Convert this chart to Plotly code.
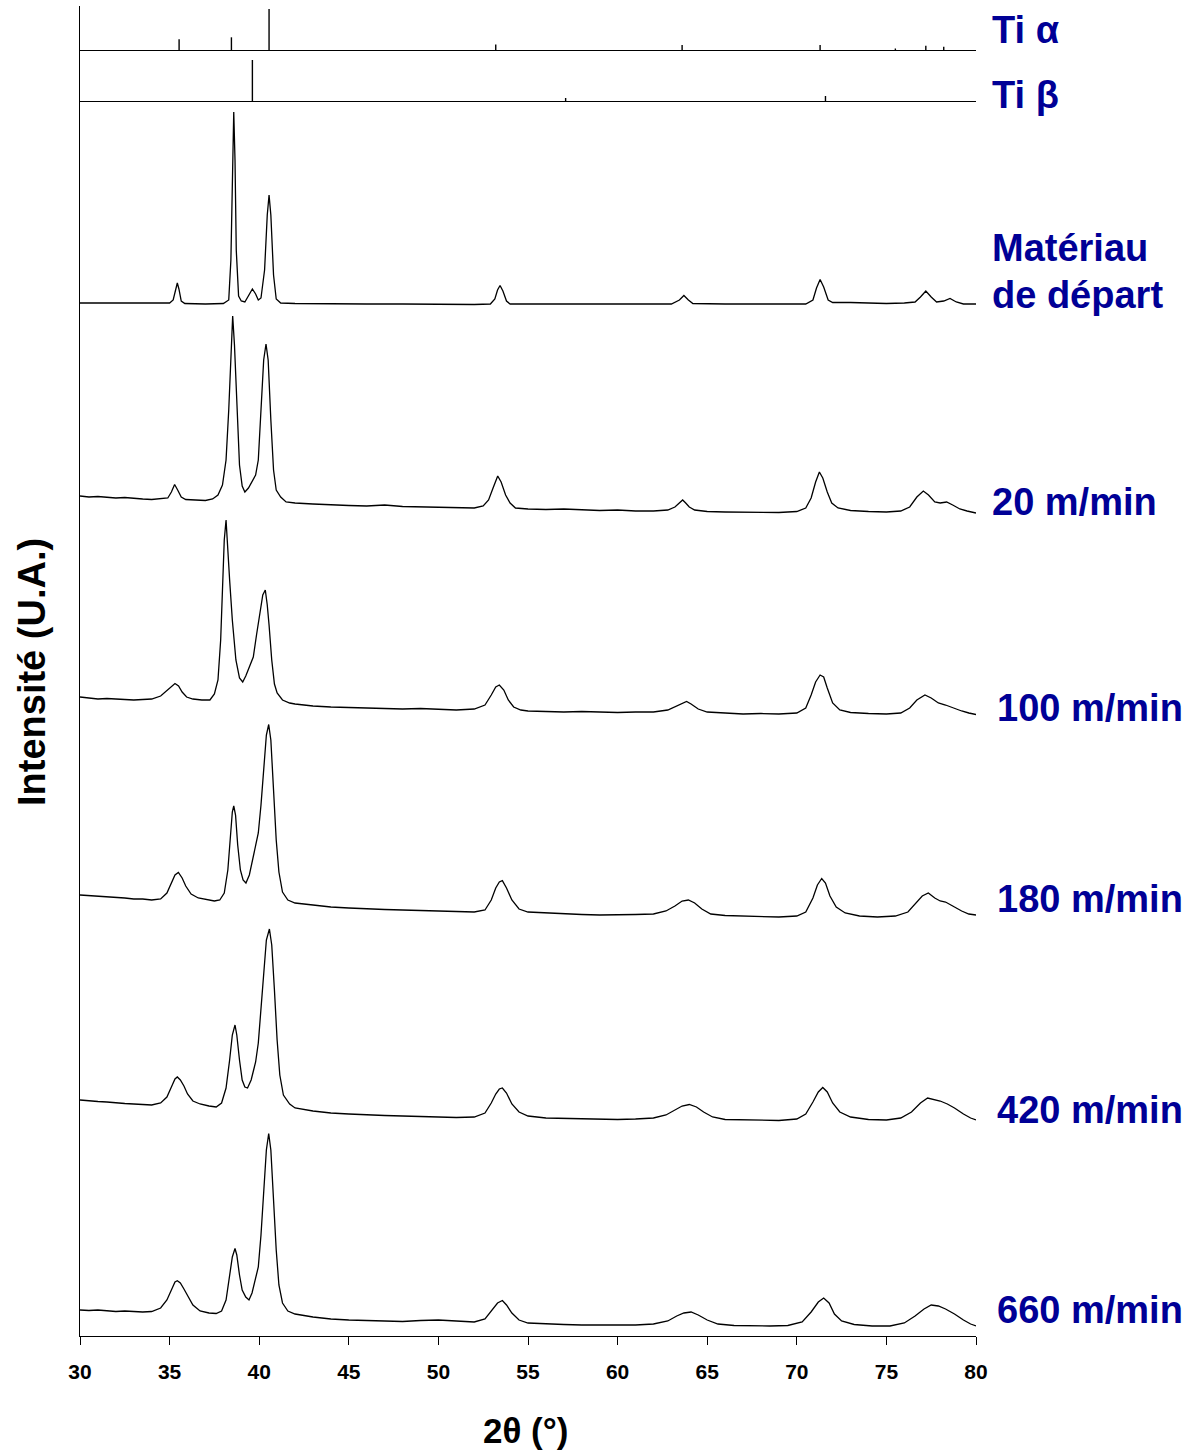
import plotly.graph_objects as go
from plotly.subplots import make_subplots

# ---------------- data (2θ in degrees, intensity in a.u.) ----------------
ti_alpha_pos = [35.53, 38.45, 40.55, 53.2, 63.6, 71.3, 75.5, 77.2, 78.2]
ti_alpha_int = [10.7, 12.7, 41, 5.5, 5, 5, 1.5, 4.3, 3.3]

ti_beta_pos = [39.62, 57.1, 71.6]
ti_beta_int = [41, 3, 5]

start_pts = [(30,0),(31,0),(32,-0.5),(33,0),(34,-0.5),(35.0,0),(35.2,3),(35.35,15),(35.43,20),(35.52,14),
             (35.65,2),(35.85,-0.5),(37,-1),(38.0,-0.5),(38.3,3),(38.42,43),(38.5,143),(38.58,191),(38.65,143),
             (38.72,53),(38.85,7),(39.0,2),(39.2,1),(39.45,9),(39.62,14),(39.8,9),(39.95,3),(40.1,5),(40.3,33),
             (40.45,88),(40.55,108),(40.65,88),(40.8,28),(40.95,4),(41.2,0),(42,-0.5),(44,-1),(46,-1),(48,-1),
             (50,-1.5),(52,-1.5),(52.9,-1),(53.15,4),(53.3,13),(53.44,17.5),(53.6,12),(53.8,2),(54.0,-1),(55,-1),
             (57,-1.5),(59,-1.5),(61,-1.5),(63.0,-1),(63.45,3),(63.7,7.5),(63.95,3),(64.2,-0.5),(66,-1),(68,-1),
             (70.5,-1),(70.9,3),(71.1,15),(71.3,23.5),(71.5,16),(71.75,3),(72.0,0.5),(73,0.5),(75,-0.5),(76,0),
             (76.6,1),(76.9,6),(77.2,12),(77.5,6),(77.8,1),(78.2,2),(78.55,4.5),(78.9,1),(79.3,-1),(80,-1)]

m20_pts = [(30,0),(30.5,-1),(31,-0.5),(31.5,-1.5),(32,-2),(32.5,-1.5),(33,-2.5),(33.5,-3),(34,-3.5),(34.5,-3),
           (34.9,-2),(35.1,4),(35.28,11.5),(35.45,6),(35.65,-1),(35.9,-3.5),(36.5,-4),(37,-4.5),(37.4,-3),(37.7,1),
           (37.95,11),(38.15,36),(38.3,86),(38.42,146),(38.52,180),(38.62,151),(38.75,86),(38.9,31),(39.05,10),
           (39.2,4),(39.4,8),(39.6,14),(39.8,21),(39.95,36),(40.1,86),(40.25,136),(40.38,152),(40.5,136),(40.65,76),
           (40.8,26),(40.95,6),(41.2,-1),(41.5,-6),(42,-7),(43,-8),(44,-9),(45,-9.5),(46,-10),(47,-9),(48,-10.5),
           (49,-11),(50,-11.5),(51,-12),(52,-12),(52.5,-10),(52.8,-4),(53.05,8),(53.31,20),(53.5,14),(53.75,1),
           (54.0,-7),(54.3,-12),(55,-13),(56,-13.5),(57,-13),(58,-14),(59,-14.5),(60,-14),(61,-15),(62,-15),
           (62.8,-14),(63.2,-11),(63.45,-7),(63.63,-4),(63.8,-7),(64.0,-11),(64.3,-14),(65,-15.5),(66,-16),(67,-16),
           (68,-16),(69,-16.5),(70,-15.5),(70.5,-12),(70.8,-2),(71.05,14),(71.26,24),(71.45,18),(71.7,4),(71.95,-7),
           (72.3,-12),(73,-14.5),(74,-15.5),(75,-16),(75.8,-15),(76.3,-11),(76.7,-1),(77.06,5),(77.35,1),(77.7,-6),
           (78.0,-7),(78.36,-6),(78.7,-9),(79.1,-13),(79.5,-15),(80,-17)]

m100_pts = [(30,0),(30.5,-1),(31,-2),(31.5,-1.5),(32,-2),(32.5,-3),(33,-3),(33.5,-2.5),(34,-2),(34.5,1),(34.9,7),
            (35.15,11),(35.3,13.5),(35.5,11),(35.7,5),(35.95,0),(36.3,-2),(36.8,-3),(37.25,-3),(37.5,3),(37.7,17),
            (37.85,57),(37.95,107),(38.05,157),(38.15,177),(38.25,152),(38.35,117),(38.5,77),(38.7,37),(38.9,19),
            (39.08,15),(39.25,21),(39.45,30),(39.67,40),(39.85,62),(40.05,87),(40.2,102),(40.34,107),(40.45,92),
            (40.55,72),(40.7,37),(40.85,13),(41.0,4),(41.3,-3),(41.7,-6),(42,-7),(43,-9),(44,-10),(45,-10.5),(46,-11),
            (47,-11),(48,-12),(49,-11.5),(50,-12.5),(51,-13),(52,-12),(52.6,-8),(52.95,2),(53.2,10),(53.4,12),
            (53.65,7),(53.9,-3),(54.2,-10),(54.6,-13),(55,-14),(56,-14.5),(57,-15),(58,-14.5),(59,-15),(60,-15.5),
            (61,-15),(62,-15),(62.8,-13),(63.3,-9),(63.6,-6),(63.85,-4.5),(64.1,-7),(64.5,-12),(65,-15),(66,-16),
            (67,-17),(68,-16.5),(69,-17),(70,-16),(70.5,-11),(70.8,2),(71.05,15),(71.3,22),(71.5,20),(71.7,9),
            (72.0,-6),(72.4,-13),(73,-15.5),(74,-16.5),(75,-17),(75.8,-16),(76.3,-11),(76.7,-3),(77.15,2),(77.5,-1),
            (77.9,-6),(78.3,-8),(78.7,-11),(79.2,-14),(79.6,-16),(80,-17.5)]

m180_pts = [(30,0),(30.5,-0.5),(31,-1),(31.5,-2),(32,-2),(32.5,-3),(33,-4),(33.5,-4),(34,-5),(34.5,-4),(34.85,2),
            (35.1,13),(35.3,20),(35.49,22.5),(35.7,17),(35.9,9),(36.2,1),(36.6,-3),(37,-4.5),(37.5,-6),(37.8,-5),
            (38.05,2),(38.25,25),(38.4,60),(38.5,83),(38.58,89),(38.68,80),(38.8,50),(38.95,25),(39.1,15),(39.26,12),
            (39.45,20),(39.65,37),(39.85,55),(39.95,62),(40.1,90),(40.25,125),(40.4,160),(40.53,170.5),(40.65,155),
            (40.8,105),(40.95,55),(41.1,23),(41.3,3),(41.6,-5),(42,-8),(43,-10),(44,-12),(45,-13),(46,-14),(47,-14.5),
            (48,-15),(49,-15.5),(50,-16),(51,-16.5),(52,-17),(52.6,-15),(52.95,-5),(53.2,7),(53.4,13),(53.57,14.3),
            (53.8,7),(54.1,-5),(54.5,-14),(55,-17),(56,-18),(57,-19),(58,-19.5),(59,-20),(60,-20),(61,-19.5),(62,-19),
            (62.7,-16),(63.2,-11),(63.6,-6),(63.95,-5),(64.3,-8),(64.7,-14),(65.2,-19),(66,-20.5),(67,-21),(68,-21.5),
            (69,-22),(70,-21),(70.5,-17),(70.9,-3),(71.15,10),(71.39,16.5),(71.6,12),(71.85,-1),(72.2,-12),(72.7,-18),
            (73.5,-21),(74.5,-22),(75.5,-21),(76.2,-17),(76.7,-7),(77.0,-1),(77.34,2),(77.7,-3),(78.0,-6),(78.3,-7),
            (78.7,-11),(79.2,-16),(79.6,-19),(80,-20)]

m420_pts = [(30,0),(30.5,-1),(31,-1.5),(31.5,-2),(32,-3),(32.5,-3.5),(33,-4),(33.5,-4.5),(34,-5),(34.5,-3),(34.85,3),
            (35.1,13),(35.3,21),(35.43,23),(35.6,20),(35.8,14),(36.0,6),(36.3,-1),(36.7,-4),(37.2,-6),(37.6,-7),
            (37.9,-3),(38.15,12),(38.35,40),(38.5,65),(38.65,75),(38.75,65),(38.9,40),(39.05,20),(39.2,13),(39.35,12),
            (39.55,20),(39.8,38),(39.95,57),(40.1,90),(40.25,130),(40.4,160),(40.57,171),(40.7,155),(40.85,110),
            (41.0,60),(41.15,25),(41.35,5),(41.7,-4),(42,-8),(43,-11),(44,-13),(45,-14),(46,-15),(47,-15.5),(48,-16),
            (49,-16.5),(50,-17),(51,-17.5),(52,-17),(52.6,-13),(52.95,-3),(53.2,6),(53.4,11),(53.57,12),(53.8,7),
            (54.1,-4),(54.5,-12),(55,-16),(56,-18),(57,-18.5),(58,-19),(59,-19),(60,-19.5),(61,-19),(62,-18),
            (62.7,-15),(63.2,-10),(63.6,-6),(64.0,-4.5),(64.4,-7),(64.8,-12),(65.3,-17),(66,-19.5),(67,-20),
            (68,-20.5),(69,-20.5),(70,-19),(70.5,-14),(70.9,-2),(71.2,8),(71.45,12.5),(71.7,8),(72.0,-3),(72.4,-12),
            (73,-17),(74,-19.5),(75,-20),(75.8,-18),(76.4,-12),(76.9,-3),(77.3,2),(77.6,1),(78.0,-1),(78.4,-4),
            (78.8,-8),(79.3,-14),(79.7,-18),(80,-20)]

m660_pts = [(30,0),(30.5,-0.5),(31,0),(31.5,-1),(32,-1.5),(32.5,-1),(33,-1.5),(33.5,-2),(34,-1.5),(34.5,2),(34.85,10),
            (35.1,20),(35.3,28),(35.43,29.3),(35.6,27),(35.8,21),(36.0,14),(36.3,5),(36.7,-1),(37.2,-3),(37.6,-3.5),
            (37.9,-1),(38.15,10),(38.35,32),(38.5,53),(38.65,61.5),(38.75,55),(38.9,35),(39.05,20),(39.25,13),
            (39.43,10),(39.6,17),(39.8,32),(39.95,43),(40.1,75),(40.25,120),(40.4,160),(40.53,176.5),(40.65,160),
            (40.8,110),(40.95,60),(41.1,25),(41.3,7),(41.6,-1),(42,-4),(43,-7),(44,-9),(45,-10),(46,-10.5),(47,-11),
            (48,-11.5),(49,-10.5),(50,-10),(51,-11),(52,-12),(52.6,-9),(53.0,0),(53.3,7),(53.57,9.5),(53.8,5),
            (54.1,-3),(54.5,-10),(55,-13),(56,-14),(57,-14.5),(58,-15),(59,-15),(60,-15.5),(61,-15),(62,-14),
            (62.8,-11),(63.3,-6),(63.7,-3),(64.1,-2),(64.5,-5),(65,-10),(65.6,-14),(66.5,-15.5),(67.5,-16),
            (68.5,-16),(69.5,-15.5),(70.3,-12),(70.8,-2),(71.2,8),(71.5,12),(71.8,7),(72.1,-4),(72.5,-11),
            (73.2,-14.5),(74.2,-16),(75.2,-16),(76,-13),(76.6,-6),(77.1,1),(77.5,5),(77.9,4),(78.3,1),(78.8,-4),
            (79.3,-10),(79.7,-14),(80,-16)]

series_names = ["Matériau de départ", "20 m/min", "100 m/min", "180 m/min", "420 m/min", "660 m/min"]
series_data = [start_pts, m20_pts, m100_pts, m180_pts, m420_pts, m660_pts]
stack_offsets = [1033, 840, 639, 441, 236, 26]   # vertical shift of each pattern

x_ticks = [30, 35, 40, 45, 50, 55, 60, 65, 70, 75, 80]

# ---------------- figure ----------------
W, H = 1191, 1450
L, R, T, B = 80, 215, 6, 114
fig = make_subplots(rows=3, cols=1, shared_xaxes=True, vertical_spacing=0,
                    row_heights=[44, 51, 1235])

def sticks(pos, inten):
    xs, ys = [], []
    for p, h in zip(pos, inten):
        xs += [p, p, None]
        ys += [0, h, None]
    return xs, ys

xs, ys = sticks(ti_alpha_pos, ti_alpha_int)
fig.add_trace(go.Scatter(x=xs, y=ys, mode="lines", line=dict(color="black", width=1.4),
                         showlegend=False, hoverinfo="skip"), row=1, col=1)
xs, ys = sticks(ti_beta_pos, ti_beta_int)
fig.add_trace(go.Scatter(x=xs, y=ys, mode="lines", line=dict(color="black", width=1.4),
                         showlegend=False, hoverinfo="skip"), row=2, col=1)

for name, pts, off in zip(series_names, series_data, stack_offsets):
    fig.add_trace(go.Scatter(x=[p[0] for p in pts], y=[p[1] + off for p in pts], mode="lines",
                             name=name, line=dict(color="black", width=1.3), showlegend=False),
                  row=3, col=1)

ax_common = dict(showline=True, linecolor="black", linewidth=1, showgrid=False, zeroline=False, mirror=False)
fig.update_xaxes(range=[30, 80], **ax_common)
fig.update_xaxes(showticklabels=False, ticks="", row=1, col=1)
fig.update_xaxes(showticklabels=False, ticks="", row=2, col=1)
fig.update_xaxes(tickmode="array", tickvals=x_ticks, ticks="outside", ticklen=8, tickwidth=1,
                 tickcolor="black", showticklabels=True, ticklabelstandoff=9,
                 tickfont=dict(family="Liberation Sans, Arial", size=21, color="black", weight="bold"),
                 row=3, col=1)
fig.update_yaxes(showticklabels=False, ticks="", **ax_common)
fig.update_yaxes(range=[0, 44], row=1, col=1)
fig.update_yaxes(range=[0, 51], row=2, col=1)
fig.update_yaxes(range=[0, 1235], row=3, col=1)

blue = "rgb(0,0,150)"
lab_font = dict(family="Liberation Sans, Arial", size=38, color=blue, weight="bold")

def px2paper(px, py):
    return (px - L) / (W - L - R), (H - B - py) / (H - T - B)

labels = [("Ti α", 990, 30), ("Ti β", 990, 95), ("Matériau", 990, 248), ("de départ", 990, 295),
          ("20 m/min", 990, 502), ("100 m/min", 995, 708), ("180 m/min", 995, 899),
          ("420 m/min", 995, 1110), ("660 m/min", 995, 1310)]
for txt, px, py in labels:
    xp, yp = px2paper(px, py)
    fig.add_annotation(text=txt, x=xp, y=yp, xref="paper", yref="paper", xanchor="left",
                       yanchor="middle", showarrow=False, font=lab_font)

xp, yp = px2paper(32, 672)
fig.add_annotation(text="Intensité (U.A.)", x=xp, y=yp, xref="paper", yref="paper", textangle=-90,
                   xanchor="center", yanchor="middle", showarrow=False,
                   font=dict(family="Liberation Sans, Arial", size=38, color="black", weight="bold"))
xp, yp = px2paper(525, 1430)
fig.add_annotation(text="2θ (°)", x=xp, y=yp, xref="paper", yref="paper",
                   xanchor="center", yanchor="middle", showarrow=False,
                   font=dict(family="Liberation Sans, Arial", size=35, color="black", weight="bold"))

fig.update_layout(width=W, height=H, margin=dict(l=L, r=R, t=T, b=B),
                  paper_bgcolor="white", plot_bgcolor="white", showlegend=False)

fig.write_html("out.html", config={"displayModeBar": False},
               post_script="document.body.style.margin='0';")
